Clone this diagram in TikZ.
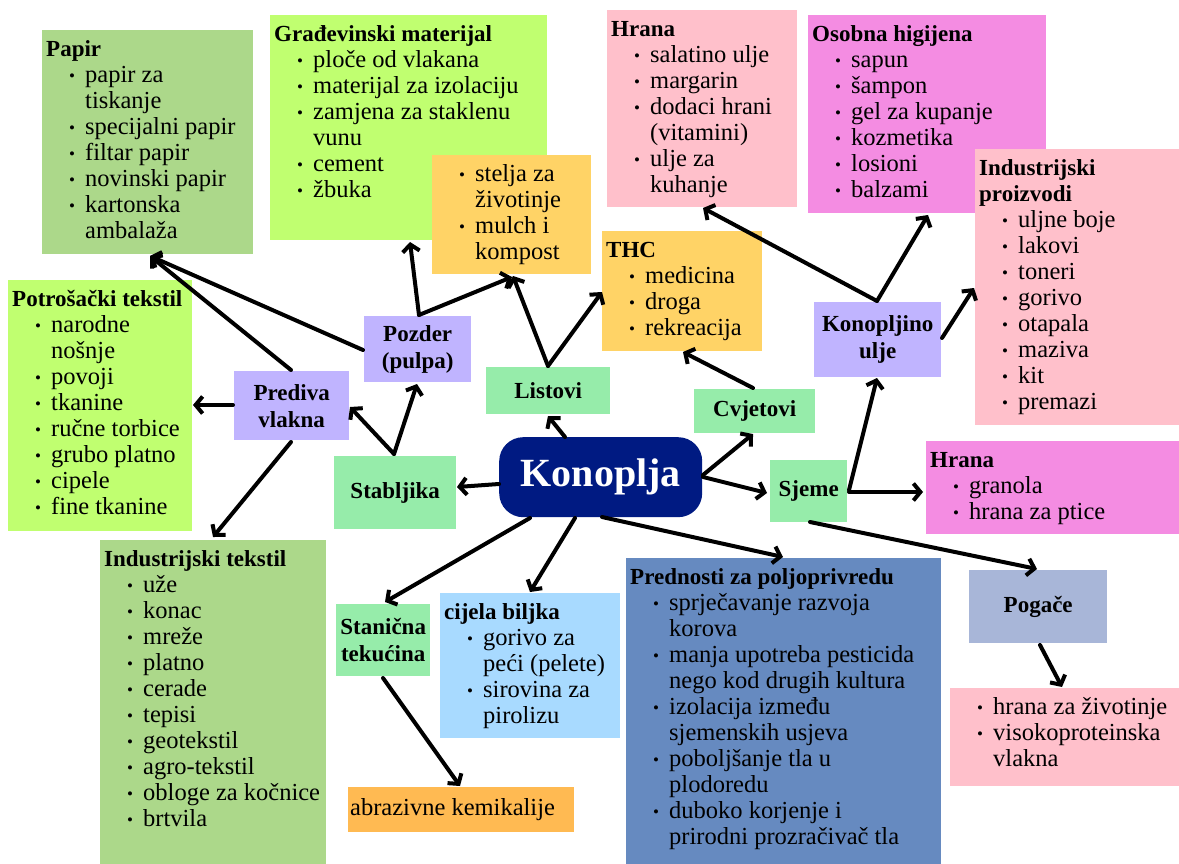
\documentclass[tikz,border=0pt]{standalone}
\usepackage{fontspec}
\setmainfont{Liberation Serif}
\usetikzlibrary{arrows.meta,calc}
\definecolor{cOlive}{RGB}{172,216,138}
\definecolor{cLime}{RGB}{192,255,112}
\definecolor{cGold}{RGB}{255,211,102}
\definecolor{cPink}{RGB}{255,192,203}
\definecolor{cMag}{RGB}{244,140,226}
\definecolor{cLav}{RGB}{192,180,255}
\definecolor{cMint}{RGB}{150,236,170}
\definecolor{cNavy}{RGB}{0,26,130}
\definecolor{cSky}{RGB}{168,218,255}
\definecolor{cBlue}{RGB}{102,138,192}
\definecolor{cGrayBlue}{RGB}{168,182,216}
\definecolor{cOrange}{RGB}{255,186,82}
\newcommand\ttl[1]{\par\noindent\hspace*{4pt}\makebox[0pt][l]{\fontsize{23}{26}\selectfont\bfseries #1}\strut}
\newcommand\bul[1]{\par\noindent\hspace*{30pt}\makebox[0pt][c]{\raisebox{1pt}{\fontsize{17}{26}\selectfont\textbullet}}\hspace*{13pt}\makebox[0pt][l]{#1}\strut}
\newcommand\cont[1]{\par\noindent\hspace*{43pt}\makebox[0pt][l]{#1}\strut}
\newcommand\lst[3]{\begin{minipage}[t][#2pt][t]{#1pt}\fontsize{24.5}{26}\selectfont\vspace*{8pt}#3\end{minipage}}
\newcommand\off[3]{($(#1.north west)+(#2,#3)$)}
\tikzset{
  listbox/.style={inner sep=0pt, anchor=north west},
  lbl/.style={inner sep=0pt, anchor=north west, align=center, font=\fontsize{23}{27}\selectfont\bfseries},
  arr/.style={line width=4pt, line cap=round, -{Straight Barb[length=7pt,width=17pt]}}
}
\begin{document}
\begin{tikzpicture}[x=1pt,y=-1pt]
\useasboundingbox (0,0) rectangle (1179,864);
% list boxes
\node[listbox, fill=cOlive] (papir) at (42,30) {\lst{211}{224}{\ttl{Papir}\bul{papir za}\cont{tiskanje}\bul{specijalni papir}\bul{filtar papir}\bul{novinski papir}\bul{kartonska}\cont{ambalaža}}};
\node[listbox, fill=cLime] (grad) at (270,15) {\lst{277}{225}{\ttl{Građevinski materijal}\bul{ploče od vlakana}\bul{materijal za izolaciju}\bul{zamjena za staklenu}\cont{vunu}\bul{cement}\bul{žbuka}}};
\node[listbox, fill=cGold] (stelja) at (432,155) {\lst{159}{119}{\bul{stelja za}\cont{životinje}\bul{mulch i}\cont{kompost}}};
\node[listbox, fill=cPink] (hranaA) at (607,10) {\lst{190}{197}{\ttl{Hrana}\bul{salatino ulje}\bul{margarin}\bul{dodaci hrani}\cont{(vitamini)}\bul{ulje za}\cont{kuhanje}}};
\node[listbox, fill=cGold] (thc) at (602,231) {\lst{160}{120}{\ttl{THC}\bul{medicina}\bul{droga}\bul{rekreacija}}};
\node[listbox, fill=cMag] (osobna) at (808,15) {\lst{238}{198}{\ttl{Osobna higijena}\bul{sapun}\bul{šampon}\bul{gel za kupanje}\bul{kozmetika}\bul{losioni}\bul{balzami}}};
\node[listbox, fill=cPink] (indpro) at (975,149) {\lst{204}{276}{\ttl{Industrijski}\ttl{proizvodi}\bul{uljne boje}\bul{lakovi}\bul{toneri}\bul{gorivo}\bul{otapala}\bul{maziva}\bul{kit}\bul{premazi}}};
\node[listbox, fill=cLime] (potro) at (8,280) {\lst{184}{251}{\ttl{Potrošački tekstil}\bul{narodne}\cont{nošnje}\bul{povoji}\bul{tkanine}\bul{ručne torbice}\bul{grubo platno}\bul{cipele}\bul{fine tkanine}}};
\node[listbox, fill=cMag] (hranaB) at (926,441) {\lst{253}{93}{\ttl{Hrana}\bul{granola}\bul{hrana za ptice}}};
\node[listbox, fill=cPink] (pinkB) at (950,688) {\lst{229}{98}{\bul{hrana za životinje}\bul{visokoproteinska}\cont{vlakna}}};
\node[listbox, fill=cOlive] (indtek) at (100,540) {\lst{226}{324}{\ttl{Industrijski tekstil}\bul{uže}\bul{konac}\bul{mreže}\bul{platno}\bul{cerade}\bul{tepisi}\bul{geotekstil}\bul{agro-tekstil}\bul{obloge za kočnice}\bul{brtvila}}};
\node[listbox, fill=cSky] (cijela) at (440,593) {\lst{180}{145}{\ttl{cijela biljka}\bul{gorivo za}\cont{peći (pelete)}\bul{sirovina za}\cont{pirolizu}}};
\node[listbox, fill=cBlue] (pred) at (626,558) {\lst{315}{306}{\ttl{Prednosti za poljoprivredu}\bul{sprječavanje razvoja}\cont{korova}\bul{manja upotreba pesticida}\cont{nego kod drugih kultura}\bul{izolacija između}\cont{sjemenskih usjeva}\bul{poboljšanje tla u}\cont{plodoredu}\bul{duboko korjenje i}\cont{prirodni prozračivač tla}}};
% label boxes
\node[lbl, fill=cLav, minimum width=115pt, minimum height=69pt] (prediva) at (234,371) {Prediva\\vlakna};
\node[lbl, fill=cLav, minimum width=107pt, minimum height=66pt] (pozder) at (364,316) {Pozder\\(pulpa)};
\node[lbl, fill=cMint, minimum width=122pt, minimum height=73pt] (stab) at (334,456) {Stabljika};
\node[lbl, fill=cMint, minimum width=124pt, minimum height=47pt] (listovi) at (486,367) {Listovi};
\node[lbl, fill=cMint, minimum width=121pt, minimum height=44pt] (cvjet) at (694,389) {Cvjetovi};
\node[lbl, fill=cMint, minimum width=77pt, minimum height=62pt] (sjeme) at (770,460) {Sjeme};
\node[lbl, fill=cLav, minimum width=127pt, minimum height=75pt] (konulje) at (814,302) {Konopljino\\ulje};
\node[lbl, fill=cGrayBlue, minimum width=138pt, minimum height=73pt] (pogace) at (969,570) {Pogače};
\node[lbl, fill=cMint, minimum width=94pt, minimum height=72pt] (stan) at (336,604) {Stanična\\tekućina};
\node[inner sep=0pt, anchor=north west, fill=cOrange, minimum height=45pt, font=\fontsize{24.5}{26}\selectfont] (abr) at (348,787) {\makebox[226pt][l]{\hspace*{2pt}abrazivne kemikalije}};
\node[inner sep=0pt, anchor=north west, fill=cNavy, rounded corners=24pt, minimum width=203pt, minimum height=80pt, text=white, font=\fontsize{40}{44}\selectfont\bfseries] (konoplja) at (499,437) {Konoplja};
% connectors
\draw[arr] \off{konoplja}{0}{47} -- \off{stab}{123}{31};
\draw[arr] \off{konoplja}{66}{0} -- \off{listovi}{62}{49};
\draw[arr] \off{konoplja}{204}{38} -- \off{cvjet}{59}{45};
\draw[arr] \off{konoplja}{204}{40} -- \off{sjeme}{-3}{33};
\draw[arr] \off{konoplja}{31}{81} -- \off{stan}{49}{-2};
\draw[arr] \off{konoplja}{76}{81} -- \off{cijela}{90}{-1};
\draw[arr] \off{konoplja}{103}{80} -- \off{pred}{157}{-1};
\draw[arr] \off{stab}{60}{-2} -- \off{prediva}{116}{36};
\draw[arr] \off{stab}{60}{-2} -- \off{pozder}{53}{68};
\draw[arr] \off{prediva}{-1}{34} -- \off{potro}{185}{125};
\draw[arr] \off{prediva}{57}{71} -- \off{indtek}{113}{-3};
\draw[arr] \off{prediva}{57}{-1} -- \off{papir}{108}{226};
\draw[arr] \off{pozder}{-1}{34} -- \off{papir}{108}{226};
\draw[arr] \off{pozder}{55}{-1} -- \off{grad}{140}{227};
\draw[arr] \off{pozder}{55}{-1} -- \off{stelja}{80}{122};
\draw[arr] \off{listovi}{62}{-1} -- \off{stelja}{81}{121};
\draw[arr] \off{listovi}{62}{-1} -- \off{thc}{0}{61};
\draw[arr] \off{cvjet}{59}{-1} -- \off{thc}{81}{121};
\draw[arr] \off{sjeme}{79}{30} -- \off{konulje}{63}{76};
\draw[arr] \off{sjeme}{79}{32} -- \off{hranaB}{-3}{51};
\draw[arr] \off{sjeme}{40}{62} -- \off{pogace}{68}{-1};
\draw[arr] \off{konulje}{63}{-1} -- \off{hranaA}{96}{198};
\draw[arr] \off{konulje}{63}{-1} -- \off{osobna}{120}{200};
\draw[arr] \off{konulje}{128}{36} -- \off{indpro}{-1}{139};
\draw[arr] \off{pogace}{71}{75} -- \off{pinkB}{112}{-1};
\draw[arr] \off{stan}{47}{74} -- \off{abr}{112}{-1};
\end{tikzpicture}
\end{document}
